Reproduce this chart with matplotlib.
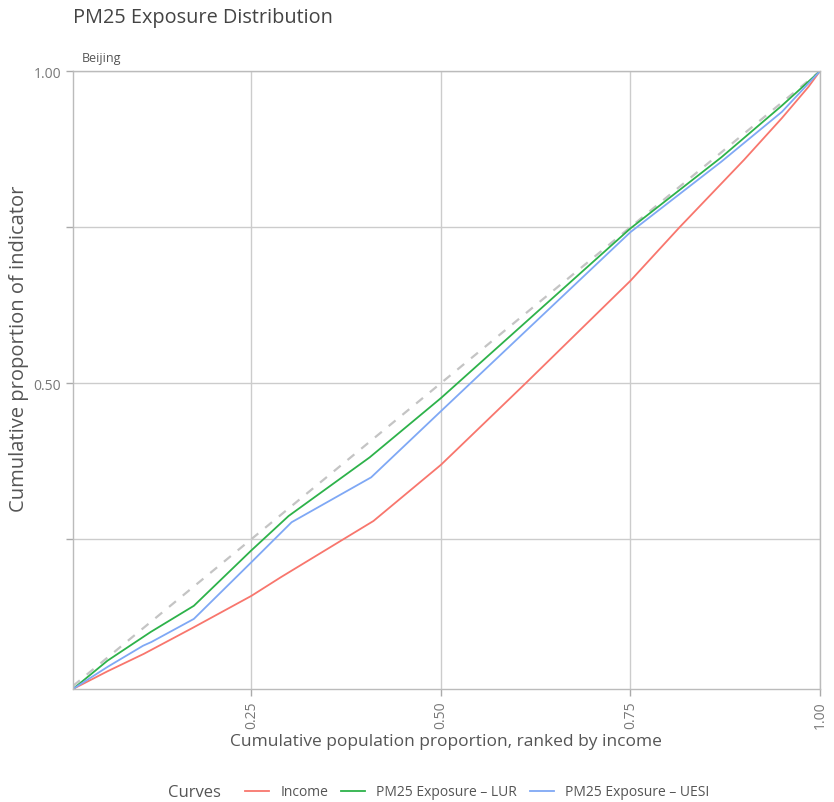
import matplotlib.pyplot as plt

plt.rcParams['font.family'] = ['Open Sans', 'DejaVu Sans']

# cumulative population share (x) and cumulative indicator share (y)
income_x = [0.0145, 0.06, 0.108, 0.173, 0.25, 0.289, 0.411, 0.5, 0.524, 0.612, 0.75, 0.815, 0.9, 0.95, 0.985, 1.0]
income_y = [0.0096, 0.038, 0.066, 0.108, 0.159, 0.189, 0.279, 0.369, 0.397, 0.5, 0.664, 0.75, 0.858, 0.925, 0.975, 1.0]

lur_x = [0.0145, 0.06, 0.117, 0.174, 0.25, 0.299, 0.406, 0.5, 0.75, 0.87, 0.95, 1.0]
lur_y = [0.0096, 0.055, 0.101, 0.143, 0.232, 0.287, 0.381, 0.476, 0.748, 0.862, 0.945, 1.0]

uesi_x = [0.0145, 0.06, 0.107, 0.118, 0.174, 0.25, 0.303, 0.408, 0.5, 0.75, 0.87, 0.95, 1.0]
uesi_y = [0.0096, 0.045, 0.079, 0.085, 0.122, 0.213, 0.277, 0.349, 0.455, 0.742, 0.855, 0.935, 1.0]

equal_x = [0.0145, 1.0]
equal_y = [0.0145, 1.0]

names = ['Income', 'PM25 Exposure \u2013 LUR', 'PM25 Exposure \u2013 UESI']
colors = ['#F8766D', '#2DB24A', '#7FA8F5']

fig = plt.figure(figsize=(8.34, 8.03), dpi=100)
ax = fig.add_axes([0.0875, 0.1407, 0.8955, 0.7693])

ax.plot(equal_x, equal_y, color='#c4c4c4', lw=1.6, ls=(0, (4, 4)))
ax.plot(income_x, income_y, color=colors[0], lw=1.3, label=names[0])
ax.plot(lur_x, lur_y, color=colors[1], lw=1.3, label=names[1])
ax.plot(uesi_x, uesi_y, color=colors[2], lw=1.3, label=names[2])

ax.set_xlim(0.0145, 1.0)
ax.set_ylim(0.0096, 1.0)

ax.set_xticks([0.25, 0.5, 0.75, 1.0])
ax.set_xticklabels(['0.25', '0.50', '0.75', '1.00'], rotation=90)
ax.set_yticks([0.25, 0.5, 0.75, 1.0])
ax.set_yticklabels(['', '0.50', '', '1.00'])
ax.tick_params(colors='#aaaaaa', labelcolor='#777777', labelsize=10, length=5, width=1)
ax.grid(True, color='#cccccc', lw=1)
ax.set_axisbelow(True)
for s in ax.spines.values():
    s.set_color('#bbbbbb')
    s.set_linewidth(1)

ax.set_xlabel('Cumulative population proportion, ranked by income', fontsize=12.5, color='#555555', labelpad=3)
ax.set_ylabel('Cumulative proportion of indicator', fontsize=14.5, color='#555555')
ax.yaxis.set_label_coords(-0.059, 0.553)

fig.text(0.0875, 0.978, 'PM25 Exposure Distribution', fontsize=14.3, color='#444444', va='center')
ax.text(0.012, 1.012, 'Beijing', transform=ax.transAxes, fontsize=9, color='#555555', va='bottom')

fig.text(0.201, 0.0125, 'Curves', fontsize=12, color='#555555', va='center')
fig.legend(loc='center left', bbox_to_anchor=(0.281, 0.0125), ncol=3, frameon=False,
           fontsize=10, labelcolor='#555555', handlelength=1.7, handletextpad=0.8,
           columnspacing=0.95, borderpad=0.3)

fig.savefig('out.png', dpi=100)
